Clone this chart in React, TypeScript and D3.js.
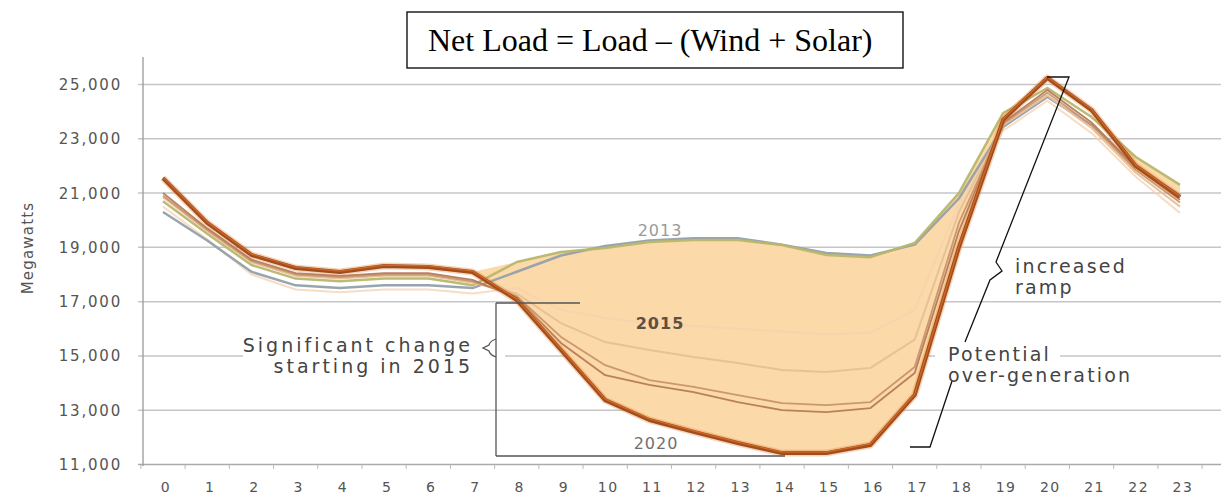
import React from "react";
import * as d3 from "d3";

const HOURS = [0, 1, 2, 3, 4, 5, 6, 7, 8, 9, 10, 11, 12, 13, 14, 15, 16, 17, 18, 19, 20, 21, 22, 23];
const Y_TICKS = [11000, 13000, 15000, 17000, 19000, 21000, 23000, 25000];

const S2012 = [20300, 19250, 18100, 17600, 17500, 17600, 17600, 17500, 18100, 18700, 19050, 19250, 19340, 19340, 19100, 18790, 18700, 19100, 20800, 23440, 24540, 23510, 21960, 20930];
const S2013 = [20700, 19500, 18350, 17850, 17750, 17850, 17850, 17600, 18460, 18830, 18980, 19200, 19270, 19270, 19090, 18720, 18640, 19160, 21000, 23950, 24870, 23800, 22330, 21300];
const S2014 = [20500, 19300, 18000, 17450, 17350, 17450, 17450, 17300, 17500, 16700, 16400, 16200, 16100, 16000, 15900, 15800, 15850, 16700, 20600, 23300, 24400, 23210, 21600, 20270];
const S2015 = [20850, 19600, 18450, 17950, 17850, 17950, 17950, 17700, 17300, 16210, 15510, 15220, 14960, 14740, 14480, 14410, 14560, 15600, 20300, 23500, 24600, 23400, 21750, 20500];
const S2016 = [20900, 19650, 18500, 18000, 17900, 18000, 18000, 17750, 17200, 15700, 14660, 14110, 13860, 13560, 13260, 13190, 13300, 14590, 19900, 23550, 24700, 23500, 21850, 20650];
const S2017 = [21000, 19700, 18550, 18050, 17950, 18050, 18050, 17800, 17150, 15480, 14290, 13930, 13670, 13300, 13000, 12930, 13080, 14370, 19600, 23600, 24800, 23600, 21950, 20750];
const S2020 = [21550, 19900, 18720, 18240, 18090, 18310, 18280, 18090, 17060, 15220, 13370, 12640, 12200, 11790, 11420, 11420, 11720, 13560, 19000, 23700, 25240, 24060, 22000, 20850];

const SERIES = [
  { year: "2014", values: S2014, color: "#f6d0b0", width: 2, opacity: 0.75 },
  { year: "2012", values: S2012, color: "#93a0aa", width: 2.5, opacity: 0.95 },
  { year: "2013", values: S2013, color: "#b8b66c", width: 2.5, opacity: 0.95 },
  { year: "2015", values: S2015, color: "#e6c097", width: 2, opacity: 0.95 },
  { year: "2016", values: S2016, color: "#c8946f", width: 1.8, opacity: 0.95 },
  { year: "2017", values: S2017, color: "#b57b58", width: 1.8, opacity: 0.95 },
];

const W = 1221;
const H = 495;
const FONT = "'DejaVu Sans', sans-serif";

export default function App() {
  const x = d3.scaleLinear().domain([0, 23]).range([163, 1180]);
  const y = d3.scaleLinear().domain([11000, 25000]).range([464.5, 84.5]);
  const step = x(1) - x(0);

  const line = d3
    .line<number>()
    .x((_, i) => x(HOURS[i]))
    .y((d) => y(d));

  const area = d3
    .area<number>()
    .x((_, i) => x(HOURS[i]))
    .y0((d) => y(d))
    .y1((d, i) => y(Math.max(S2013[i], d)));

  const gridSegments = (v: number): [number, number][] => {
    if (v === 15000) return [[138, 243], [505, 935], [1060, W]];
    return [[138, W]];
  };

  const annot = { fill: "#444", fontFamily: FONT, fontSize: 19, letterSpacing: 2.2 } as const;
  const annotWide = { ...annot, letterSpacing: 3 } as const;

  return (
    <svg
      width={W}
      height={H}
      style={{ position: "absolute", left: 0, top: 0, background: "#fff" }}
    >
      {/* title box */}
      <rect x={407} y={12} width={496} height={56} fill="#fff" stroke="#000" strokeWidth={1.3} />
      <text
        x={428}
        y={51}
        fontFamily="'Liberation Serif', 'Times New Roman', serif"
        fontSize={32}
        fill="#000"
      >
        Net Load = Load – (Wind + Solar)
      </text>

      {/* gridlines */}
      {Y_TICKS.map((v) =>
        gridSegments(v).map(([a, b], k) => (
          <line
            key={`g${v}-${k}`}
            x1={a}
            x2={b}
            y1={y(v)}
            y2={y(v)}
            stroke={v === 11000 ? "#aaa" : "#c6c6c6"}
            strokeWidth={1.5}
          />
        ))
      )}
      {/* y axis */}
      <line x1={143} x2={143} y1={57} y2={466} stroke="#999" strokeWidth={1.3} />
      {/* x ticks */}
      {d3.range(25).map((k) => (
        <line
          key={`t${k}`}
          x1={x(0) - step / 2 + k * step}
          x2={x(0) - step / 2 + k * step}
          y1={465}
          y2={469}
          stroke="#bbb"
          strokeWidth={1}
        />
      ))}

      {/* y tick labels */}
      {Y_TICKS.map((v) => (
        <text
          key={`yl${v}`}
          x={122}
          y={y(v) + 5.5}
          textAnchor="end"
          fontFamily={FONT}
          fontSize={15}
          letterSpacing={1.8}
          fill="#555"
        >
          {d3.format(",")(v)}
        </text>
      ))}
      {/* x tick labels */}
      {HOURS.map((h) => (
        <text
          key={`xl${h}`}
          x={x(h) + 3}
          y={492}
          textAnchor="middle"
          fontFamily={FONT}
          fontSize={14}
          letterSpacing={1.5}
          fill="#555"
        >
          {h}
        </text>
      ))}
      <text
        transform="translate(33,248) rotate(-90)"
        textAnchor="middle"
        fontFamily={FONT}
        fontSize={15}
        letterSpacing={1.2}
        fill="#555"
      >
        Megawatts
      </text>

      {/* belly fill */}
      <path d={area(S2020) || ""} fill="#fcd9a8" />

      {/* series lines */}
      {SERIES.map((s) => (
        <path
          key={s.year}
          d={line(s.values) || ""}
          fill="none"
          stroke={s.color}
          strokeWidth={s.width}
          strokeLinejoin="round"
          opacity={s.opacity}
        />
      ))}
      <path d={line(S2020) || ""} fill="none" stroke="#e08a45" strokeWidth={7} strokeOpacity={0.35} strokeLinejoin="round" />
      <path d={line(S2020) || ""} fill="none" stroke="#a24d1b" strokeWidth={4} strokeLinejoin="round" />
      <path d={line(S2020) || ""} fill="none" stroke="#d06a2a" strokeWidth={1.2} strokeLinejoin="round" transform="translate(0,-1)" />

      {/* year labels */}
      <text x={660} y={236} textAnchor="middle" fontFamily={FONT} fontSize={16} letterSpacing={1} fill="#9a9a9a">2013</text>
      <text x={660} y={329} textAnchor="middle" fontFamily={FONT} fontSize={16} letterSpacing={1} fill="#5f5040" fontWeight="bold">2015</text>
      <text x={656} y={449} textAnchor="middle" fontFamily={FONT} fontSize={16} letterSpacing={1} fill="#707070">2020</text>

      {/* significant change bracket */}
      <g stroke="#555" strokeWidth={1.3} fill="none">
        <line x1={496} x2={496} y1={303} y2={456} />
        <line x1={496} x2={580} y1={303} y2={303} />
        <line x1={496} x2={785} y1={456} y2={456} />
        <path d="M496,339 Q490,341 489,345 L483,348 L489,351 Q490,355 496,357" />
      </g>
      <text x={473} y={352} textAnchor="end" {...annotWide}>Significant change</text>
      <text x={473} y={373} textAnchor="end" {...annotWide}>starting in 2015</text>

      {/* ramp / over-generation brackets */}
      <g stroke="#111" strokeWidth={1.3} fill="none">
        <path d="M1047,77 L1069,77 L996,262 L1002,271 L990,280 L965,342" />
        <path d="M952,381 L930,447 L910,447" />
      </g>
      <text x={1015} y={273} {...annot}>increased</text>
      <text x={1015} y={294} {...annot}>ramp</text>
      <text x={948} y={361} {...annot}>Potential</text>
      <text x={948} y={382} {...annot}>over-generation</text>
    </svg>
  );
}
